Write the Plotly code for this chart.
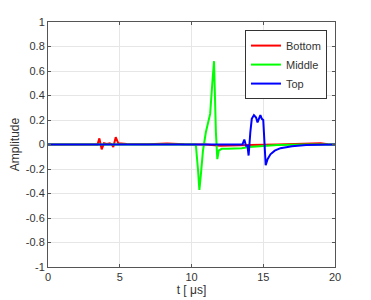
import plotly.graph_objects as go

bottom_t = [0, 3.45, 3.58, 3.74, 3.9, 4.1, 4.3, 4.45, 4.55, 4.72, 4.9, 5.5, 7, 8.3, 9.5, 11, 12, 13, 14, 16, 18, 19, 19.5, 20]
bottom_a = [0, 0, 0.05, -0.04, 0.01, 0.005, 0.01, 0.0, -0.02, 0.06, 0.01, 0.005, 0.003, 0.008, 0.002, 0, -0.01, -0.01, -0.005, 0, 0.005, 0.01, 0.003, 0]

middle_t = [0, 10.3, 10.45, 10.55, 10.65, 10.8, 11.0, 11.3, 11.45, 11.57, 11.7, 11.8, 11.9, 12.1, 12.5, 13, 13.5, 14, 15, 16, 18, 20]
middle_a = [0, 0, -0.2, -0.37, -0.25, -0.05, 0.1, 0.25, 0.5, 0.68, 0.1, -0.12, -0.05, -0.035, -0.035, -0.035, -0.03, -0.02, -0.01, -0.005, 0, 0]

top_t = [0, 13.55, 13.68, 13.8, 13.9, 13.98, 14.1, 14.2, 14.35, 14.5, 14.6, 14.7, 14.8, 14.9, 15.0, 15.17, 15.3, 15.5, 15.8, 16.2, 17, 18, 20]
top_a = [0, 0, 0.04, -0.01, -0.01, -0.09, 0.1, 0.21, 0.24, 0.22, 0.18, 0.22, 0.24, 0.21, 0.2, -0.17, -0.12, -0.08, -0.05, -0.03, -0.015, -0.005, 0]

x_ticks = [0, 5, 10, 15, 20]
y_ticks = [-1, -0.8, -0.6, -0.4, -0.2, 0, 0.2, 0.4, 0.6, 0.8, 1]
y_labels = ["-1", "-0.8", "-0.6", "-0.4", "-0.2", "0", "0.2", "0.4", "0.6", "0.8", "1"]

fig = go.Figure()
fig.add_trace(go.Scatter(x=bottom_t, y=bottom_a, mode="lines", name="Bottom", line=dict(color="#ff0000", width=2)))
fig.add_trace(go.Scatter(x=middle_t, y=middle_a, mode="lines", name="Middle", line=dict(color="#00ff00", width=2)))
fig.add_trace(go.Scatter(x=top_t, y=top_a, mode="lines", name="Top", line=dict(color="#0000ff", width=2)))

axis_common = dict(showline=True, linecolor="#555555", linewidth=1, mirror="ticks",
                   ticks="inside", ticklen=3, tickcolor="#555555", automargin=False,
                   showgrid=True, gridcolor="#e6e6e6", gridwidth=1, zeroline=False,
                   tickfont=dict(family="Liberation Sans", size=11, color="#333333"))

# page body has a default 8px margin, so the figure is sized/offset to compensate
fig.update_layout(
    width=363, height=292,
    margin=dict(l=40, r=36, t=14, b=33),
    plot_bgcolor="white", paper_bgcolor="white",
    font=dict(family="Liberation Sans", size=11, color="#333333"),
    xaxis=dict(range=[0, 20], tickvals=x_ticks, title=dict(text="t [ μs]", standoff=3, font=dict(size=12)), **axis_common),
    yaxis=dict(range=[-1, 1], tickvals=y_ticks, ticktext=y_labels, title=dict(text="Amplitude", standoff=4, font=dict(size=12)), **axis_common),
    legend=dict(x=0.972, xanchor="right", y=0.967, yanchor="top", bgcolor="white",
                bordercolor="#333333", borderwidth=1, font=dict(size=11), tracegroupgap=0,
                itemwidth=30),
    showlegend=True,
)

fig.write_html("out.html")
